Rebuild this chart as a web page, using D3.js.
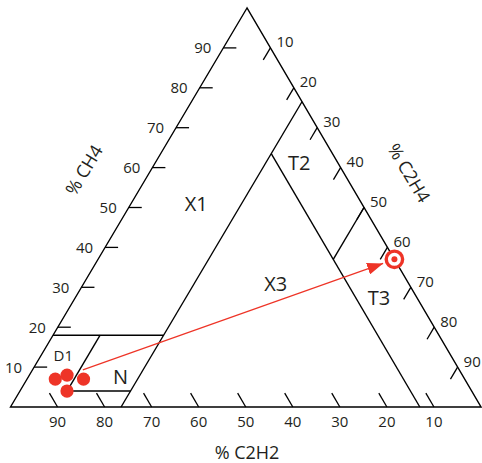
<!DOCTYPE html>
<html>
<head>
<meta charset="utf-8">
<script src="https://cdn.jsdelivr.net/npm/d3@7"></script>
<style>
  body { margin: 0; background: #fff; }
  svg { display: block; font-family: "Open Sans", "DejaVu Sans", sans-serif; }
</style>
</head>
<body>
<div id="chart"></div>
<script>
// ternary values are % CH4, % C2H4 (C2H2 = 100 - the rest)
var ticks = [10, 20, 30, 40, 50, 60, 70, 80, 90];

// zone boundaries, each [[ch4, c2h4], [ch4, c2h4]]
var boundaries = [
	[[18, 0], [18, 23.5]],
	[[4, 10], [4, 23.5]],
	[[4, 10], [18, 10]],
	[[0, 23.5], [76.5, 23.5]],
	[[63.5, 23.5], [0, 87]],
	[[37, 50], [50, 50]]
];

var zoneNames = ["X1", "T2", "X3", "T3", "N", "D1"];
var zoneCh4 = [50.9, 61.2, 30.8, 27.3, 7.5, 12.8];
var zoneC2h4 = [13.9, 30.6, 40.9, 64.6, 19.6, 4.8];

// measured samples
var sampleCh4 = [7, 8, 7, 4];
var sampleC2h4 = [6, 8, 12, 10];

// last analysis
var targetCh4 = 37, targetC2h4 = 63;
var arrowFromCh4 = 9.3, arrowFromC2h4 = 10.7;

var width = 482, height = 463;
var red = "#ee3427";
var ink = "#231f20";

var svg = d3.select("#chart").append("svg")
	.attr("width", width)
	.attr("height", height);

var xLeft = 10.5, xRight = 481, yBase = 407, yApex = 8, xApex = 247;
var shear = (xApex - xLeft) / (xRight - xLeft);

var xs = d3.scaleLinear().domain([0, 100]).range([xLeft, xRight]);
var ys = d3.scaleLinear().domain([0, 100]).range([yBase, yApex]);

function project(ch4, c2h4) {
	return [xs(c2h4 + ch4 * shear), ys(ch4)];
}

var line = d3.line();

// outline
svg.append("path")
	.attr("d", line([project(100, 0), project(0, 0), project(0, 100)]) + "Z")
	.attr("fill", "none")
	.attr("stroke", "#000")
	.attr("stroke-width", 1.4);

// zone boundaries
svg.selectAll(".bound")
	.data(boundaries)
	.enter().append("path")
	.attr("class", "bound")
	.attr("d", function(d) { return line(d.map(function(p) { return project(p[0], p[1]); })); })
	.attr("fill", "none")
	.attr("stroke", "#000")
	.attr("stroke-width", 1.4);

// unit directions for ticks
var A = project(100, 0), BL = project(0, 0), BR = project(0, 100);
function unit(p, q) {
	var dx = q[0] - p[0], dy = q[1] - p[1], l = Math.sqrt(dx * dx + dy * dy);
	return [dx / l, dy / l];
}
var dirRight = unit(A, BL);   // along left side direction, for C2H4 ticks
var dirBase = unit(BR, A);    // along right side direction, for C2H2 ticks

var tickLen = 14;
var tickG = svg.append("g").attr("stroke", "#000").attr("stroke-width", 1.3);
var labelG = svg.append("g").attr("fill", ink).style("font-size", "15px");

// CH4 on left side
ticks.forEach(function(t) {
	var p = project(t, 0);
	tickG.append("line")
		.attr("x1", p[0]).attr("y1", p[1])
		.attr("x2", p[0] + 13).attr("y2", p[1]);
	labelG.append("text")
		.attr("x", p[0] - 12).attr("y", p[1])
		.attr("dy", "0.36em")
		.attr("text-anchor", "end")
		.text(t);
});

// C2H4 on right side
ticks.forEach(function(t) {
	var p = project(100 - t, t);
	tickG.append("line")
		.attr("x1", p[0]).attr("y1", p[1])
		.attr("x2", p[0] + dirRight[0] * tickLen).attr("y2", p[1] + dirRight[1] * tickLen);
	labelG.append("text")
		.attr("x", p[0] + 6).attr("y", p[1] - 6)
		.attr("dy", "0.36em")
		.text(t);
});

// C2H2 on base
ticks.forEach(function(t) {
	var p = project(0, 100 - t);
	tickG.append("line")
		.attr("x1", p[0]).attr("y1", p[1])
		.attr("x2", p[0] + dirBase[0] * (tickLen + 2)).attr("y2", p[1] + dirBase[1] * (tickLen + 2));
	labelG.append("text")
		.attr("x", p[0]).attr("y", 427)
		.attr("text-anchor", "middle")
		.text(t);
});

// axis titles
svg.append("text")
	.attr("transform", "translate(84,170) rotate(-59)")
	.attr("text-anchor", "middle").attr("dy", "0.36em")
	.attr("fill", ink).style("font-size", "18px")
	.text("% CH4");
svg.append("text")
	.attr("transform", "translate(409,173) rotate(59)")
	.attr("text-anchor", "middle").attr("dy", "0.36em")
	.attr("fill", ink).style("font-size", "18px")
	.text("% C2H4");
svg.append("text")
	.attr("x", 247).attr("y", 459)
	.attr("text-anchor", "middle")
	.attr("fill", ink).style("font-size", "18px")
	.text("% C2H2");

// zone labels
svg.selectAll(".zone")
	.data(zoneNames)
	.enter().append("text")
	.attr("class", "zone")
	.attr("x", function(d, i) { return project(zoneCh4[i], zoneC2h4[i])[0]; })
	.attr("y", function(d, i) { return project(zoneCh4[i], zoneC2h4[i])[1]; })
	.attr("dy", "0.36em")
	.attr("text-anchor", "middle")
	.attr("fill", ink)
	.style("font-size", function(d) { return d == "D1" ? "15px" : "20px"; })
	.text(function(d) { return d; });

// arrow
svg.append("defs").append("marker")
	.attr("id", "head")
	.attr("markerUnits", "userSpaceOnUse")
	.attr("markerWidth", 18).attr("markerHeight", 12)
	.attr("refX", 16).attr("refY", 6)
	.attr("orient", "auto")
	.append("path")
	.attr("d", "M0,0L16,6L0,12Z")
	.attr("fill", red);

var from = project(arrowFromCh4, arrowFromC2h4);
var tgt = project(targetCh4, targetC2h4);
var ad = unit(from, tgt);
svg.append("line")
	.attr("x1", from[0]).attr("y1", from[1])
	.attr("x2", tgt[0] - ad[0] * 12).attr("y2", tgt[1] - ad[1] * 12)
	.attr("stroke", red)
	.attr("stroke-width", 1.2)
	.attr("marker-end", "url(#head)");

// samples
svg.selectAll(".sample")
	.data(sampleCh4)
	.enter().append("circle")
	.attr("class", "sample")
	.attr("cx", function(d, i) { return project(d, sampleC2h4[i])[0]; })
	.attr("cy", function(d, i) { return project(d, sampleC2h4[i])[1]; })
	.attr("r", 6.6)
	.attr("fill", red);

// target ring
svg.append("circle")
	.attr("cx", tgt[0]).attr("cy", tgt[1])
	.attr("r", 8.2)
	.attr("fill", "#fff")
	.attr("stroke", red)
	.attr("stroke-width", 3.4);
svg.append("circle")
	.attr("cx", tgt[0]).attr("cy", tgt[1])
	.attr("r", 3)
	.attr("fill", red);
</script>
</body>
</html>
